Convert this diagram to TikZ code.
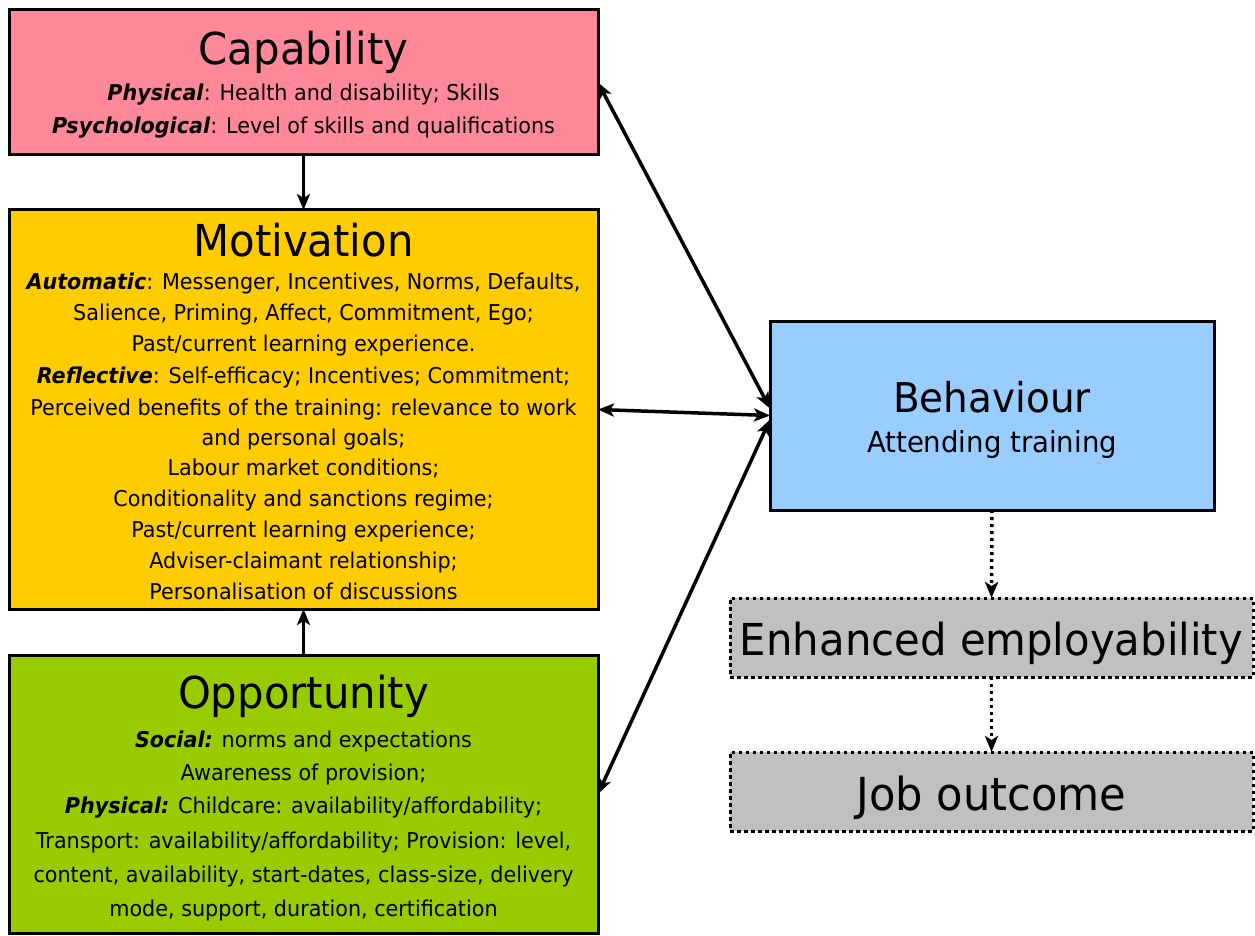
\documentclass[tikz,border=0pt]{standalone}
\usepackage{fontspec}
\setmainfont{DejaVu Sans}[FakeStretch=0.95]
\usetikzlibrary{arrows.meta}
\definecolor{capc}{RGB}{255,136,153}
\definecolor{motc}{RGB}{255,204,0}
\definecolor{oppc}{RGB}{153,204,0}
\definecolor{behc}{RGB}{153,204,255}
\definecolor{outc}{RGB}{192,192,192}
\newcommand\bi[1]{\textbf{\textit{#1}}}
\tikzset{
  box/.style={draw=black, line width=3pt, anchor=north west, inner sep=0pt, outer sep=0pt},
  dotbox/.style={box, dash pattern=on 3.5pt off 3.5pt},
  body/.style={anchor=base, inner sep=0pt, font=\fontsize{21.8}{26}\selectfont},
  ttl/.style={anchor=base, inner sep=0pt, font=\fontsize{44}{50}\selectfont},
  arr/.style={line width=3.5pt, -{Stealth[length=16pt,width=13pt,inset=4pt]}},
  darr/.style={line width=3.5pt, {Stealth[length=16pt,width=13pt,inset=4pt]}-{Stealth[length=16pt,width=13pt,inset=4pt]}},
  dotarr/.style={arr, dash pattern=on 3pt off 4pt},
}
\begin{document}
\begin{tikzpicture}[x=1pt,y=-1pt]
\useasboundingbox (0,0) rectangle (1255,936);
\clip (0,0) rectangle (1255,936);
% boxes
\node[box, fill=capc, minimum width=589pt, minimum height=145pt] (cap) at (9,10) {};
\node[box, fill=motc, minimum width=589pt, minimum height=399pt] (mot) at (9,210) {};
\node[box, fill=oppc, minimum width=589pt, minimum height=278pt] (opp) at (9,655) {};
\node[box, fill=behc, minimum width=444pt, minimum height=189pt] (beh) at (770,321) {};
\node[dotbox, fill=outc, minimum width=523pt, minimum height=79pt] (enh) at (730,598) {};
\node[dotbox, fill=outc, minimum width=523pt, minimum height=79pt] (job) at (730,752) {};
% capability text
\node[ttl] (capt) at (303.5,65) {Capability};
\node[body] (cap1) at (303.5,101) {\bi{Physical}: Health and disability; Skills};
\node[body] (cap2) at (303.5,134) {\bi{Psychological}: Level of skills and qualifications};
% motivation text
\node[ttl] (mott) at (303.5,256) {Motivation};
\node[body] (m1) at (303.5,289) {\bi{Automatic}: Messenger, Incentives, Norms, Defaults,};
\node[body] (m2) at (303.5,320) {Salience, Priming, Affect, Commitment, Ego;};
\node[body] (m3) at (303.5,351) {Past/current learning experience.};
\node[body] (m4) at (303.5,383) {\bi{Reflective}: Self-efficacy; Incentives; Commitment;};
\node[body] (m5) at (303.5,415) {Perceived benefits of the training: relevance to work};
\node[body] (m6) at (303.5,445) {and personal goals;};
\node[body] (m7) at (303.5,475) {Labour market conditions;};
\node[body] (m8) at (303.5,506) {Conditionality and sanctions regime;};
\node[body] (m9) at (303.5,537) {Past/current learning experience;};
\node[body] (m10) at (303.5,568) {Adviser-claimant relationship;};
\node[body] (m11) at (303.5,599) {Personalisation of discussions};
% opportunity text
\node[ttl] (oppt) at (303.5,708) {Opportunity};
\node[body] (o1) at (303.5,747) {\bi{Social:} norms and expectations};
\node[body] (o2) at (303.5,780) {Awareness of provision;};
\node[body] (o3) at (303.5,813) {\bi{Physical:} Childcare: availability/affordability;};
\node[body] (o4) at (303.5,848) {Transport: availability/affordability; Provision: level,};
\node[body] (o5) at (303.5,882) {content, availability, start-dates, class-size, delivery};
\node[body] (o6) at (303.5,916) {mode, support, duration, certification};
% behaviour text
\node[ttl, font=\fontsize{41}{48}\selectfont] (beht) at (992,412) {Behaviour};
\node[body, font=\fontsize{29}{34}\selectfont] (beh1) at (992,452) {Attending training};
\node[ttl] (enht) at (991.5,655) {Enhanced employability};
\node[ttl, font=\fontsize{45.5}{52}\selectfont] (jobt) at (991.5,810) {Job outcome};
% connectors
\draw[arr] (cap.south) -- (mot.north);
\draw[arr] (opp.north) -- (mot.south);
\draw[darr] (cap.east) -- ([yshift=7pt]beh.west);
\draw[darr] (mot.east) -- (beh.west);
\draw[darr] (opp.east) -- ([yshift=-4pt]beh.west);
\draw[dotarr] (beh.south) -- (enh.north);
\draw[dotarr] (enh.south) -- (job.north);
\end{tikzpicture}
\end{document}
